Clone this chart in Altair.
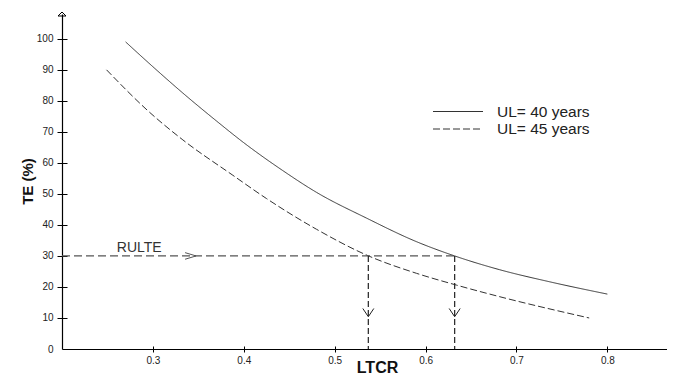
import altair as alt
import pandas as pd

# ---- data ----
ul40_x = [0.27, 0.30, 0.333, 0.37, 0.40, 0.443, 0.48, 0.535, 0.59, 0.632, 0.681, 0.736, 0.80]
ul40_y = [99.0, 91.0, 82.5, 73.5, 66.5, 57.5, 50.5, 42.2, 34.6, 30.0, 25.6, 21.7, 17.7]
ul45_x = [0.249, 0.2964, 0.333, 0.388, 0.425, 0.48, 0.5365, 0.59, 0.634, 0.681, 0.78]
ul45_y = [90.0, 76.3, 67.4, 56.0, 48.5, 38.6, 30.1, 24.4, 20.6, 16.9, 10.0]
series_names = ["UL= 40 years", "UL= 45 years"]

rulte_value = 30
rulte_label = "RULTE"
rulte_label_pos = [0.285, 32.6]
rulte_arrow_x = 0.3475
cross_x = [0.537, 0.632]
down_arrow_y = 10.4

x_ticks = [0.3, 0.4, 0.5, 0.6, 0.7, 0.8]
y_ticks = [0, 10, 20, 30, 40, 50, 60, 70, 80, 90, 100]
x_domain = [0.2, 0.8656]
y_domain = [0, 108]

FONT = "Liberation Sans"
INK = "#333333"

curves = pd.DataFrame(
    [{"series": series_names[0], "x": a, "y": b} for a, b in zip(ul40_x, ul40_y)]
    + [{"series": series_names[1], "x": a, "y": b} for a, b in zip(ul45_x, ul45_y)]
)

xs = alt.Scale(domain=x_domain, nice=False, zero=False)
ys = alt.Scale(domain=y_domain, nice=False)

main = alt.Chart(curves).mark_line(strokeWidth=1, color=INK, interpolate="monotone").encode(
    x=alt.X("x:Q", scale=xs, axis=alt.Axis(
        values=x_ticks, format=".1f", ticks=False, tickSize=0, labelPadding=6,
        grid=False, domainColor="black", domainWidth=1.2,
        title="LTCR", titleFont=FONT, titleFontSize=16, titleFontWeight="bold",
        titleColor="#111", titleX=315, titleY=23, titleAlign="center",
        titleBaseline="alphabetic", titleAnchor="start")),
    y=alt.Y("y:Q", scale=ys, axis=alt.Axis(
        values=y_ticks, ticks=False, tickSize=0, labelPadding=9,
        grid=False, domainColor="black", domainWidth=1.2,
        title="TE (%)", titleFont=FONT, titleFontSize=15, titleFontWeight="bold",
        titleColor="#111", titleX=-35, titleY=167, titleAngle=270,
        titleAlign="center", titleBaseline="middle", titleAnchor="start")),
    strokeDash=alt.StrokeDash("series:N", scale=alt.Scale(domain=series_names, range=[[1, 0], [7, 3]]), legend=None),
    detail="series:N",
)

# crossing ticks
tick_layer = alt.Chart(curves).mark_point(opacity=0).encode(
    x=alt.X("x:Q", scale=xs, axis=alt.Axis(
        orient="bottom", values=x_ticks, labels=False, domain=False, grid=False,
        tickSize=6, offset=-3, tickColor="black", tickWidth=1, title=None)),
    y=alt.Y("y:Q", scale=ys, axis=alt.Axis(
        orient="left", values=y_ticks[1:], labels=False, domain=False, grid=False,
        tickSize=10, offset=-5, tickColor="black", tickWidth=1, title=None)),
)

hrule_df = pd.DataFrame({"x": [x_domain[0]], "x2": [cross_x[1]], "y": [rulte_value]})
hrule = alt.Chart(hrule_df).mark_rule(strokeDash=[8, 4], color="#555", strokeWidth=1.2).encode(
    x=alt.X("x:Q", scale=xs, axis=None), x2="x2:Q", y=alt.Y("y:Q", scale=ys, axis=None)
)

vrule_df = pd.DataFrame({"x": cross_x, "y": [rulte_value] * 2, "y2": [0] * 2})
vrule = alt.Chart(vrule_df).mark_rule(strokeDash=[6, 3], color="#222", strokeWidth=1.2).encode(
    x=alt.X("x:Q", scale=xs, axis=None), y=alt.Y("y:Q", scale=ys, axis=None), y2="y2:Q"
)

right_arrow_df = pd.DataFrame({"x": [rulte_arrow_x], "y": [rulte_value]})
right_arrow = alt.Chart(right_arrow_df).mark_point(
    shape="M-1,-0.3L0,0L-1,0.3", size=484, filled=False, color="#555", strokeWidth=1, opacity=1
).encode(x=alt.X("x:Q", scale=xs, axis=None), y=alt.Y("y:Q", scale=ys, axis=None))

down_arrow_df = pd.DataFrame({"x": cross_x, "y": [down_arrow_y] * 2})
down_arrow = alt.Chart(down_arrow_df).mark_point(
    shape="M-1,-1.5L0,0L1,-1.5", size=121, filled=False, color="#222", strokeWidth=1, opacity=1
).encode(x=alt.X("x:Q", scale=xs, axis=None), y=alt.Y("y:Q", scale=ys, axis=None))

label_df = pd.DataFrame({"x": [rulte_label_pos[0]], "y": [rulte_label_pos[1]], "t": [rulte_label]})
label = alt.Chart(label_df).mark_text(
    font=FONT, fontSize=14, color="#333", baseline="middle", align="center"
).encode(x=alt.X("x:Q", scale=xs, axis=None), y=alt.Y("y:Q", scale=ys, axis=None), text="t:N")

top_arrow_df = pd.DataFrame({"x": [x_domain[0]], "y": [y_domain[1]]})
top_arrow = alt.Chart(top_arrow_df).mark_point(
    shape="M-1,0.5L0,-0.5L1,0.5Z", size=64, filled=False, color="black", strokeWidth=1, opacity=1
).encode(x=alt.X("x:Q", scale=xs, axis=None), y=alt.Y("y:Q", scale=ys, axis=None))

# manual legend
leg_df = pd.DataFrame({"t": series_names})
legend_layers = []
for i, (name, dash) in enumerate(zip(series_names, [[1, 0], [7, 3]])):
    ypix = 97.5 + i * 17.5
    one = leg_df[leg_df["t"] == name]
    legend_layers.append(
        alt.Chart(one).mark_rule(color=INK, strokeWidth=1, strokeDash=dash).encode(
            x=alt.value(371), x2=alt.value(421), y=alt.value(ypix))
    )
    legend_layers.append(
        alt.Chart(one).mark_text(font=FONT, fontSize=15.5, color="#222", align="left", baseline="middle").encode(
            x=alt.value(435), y=alt.value(ypix), text="t:N")
    )

chart = alt.layer(
    main, tick_layer, hrule, vrule, right_arrow, down_arrow, label, top_arrow, *legend_layers
).resolve_axis(x="independent", y="independent").properties(
    width=605, height=335,
    autosize=alt.AutoSizeParams(type="none"),
    padding={"left": 54, "top": 6, "right": 0, "bottom": 27},
    background="white",
).configure_view(stroke=None).configure_axis(
    labelFont=FONT, labelFontSize=10, labelColor="#222"
)

chart.save("out.html", embed_options={"renderer": "svg", "actions": False})
